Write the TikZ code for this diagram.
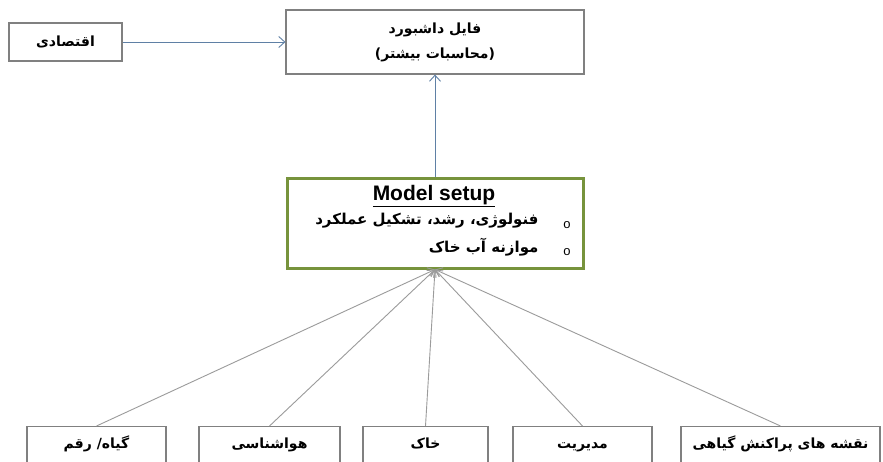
\documentclass[tikz,border=0pt]{standalone}
\usepackage{fontspec}
\setmainfont{Liberation Sans}
\newfontfamily\farsi[Script=Arabic]{DejaVu Sans}
\TeXXeTstate=1
\usepackage{xcolor}
\usetikzlibrary{positioning,arrows,arrows.meta}

\definecolor{boxgray}{RGB}{128,128,128}
\definecolor{linkblue}{RGB}{95,128,165}
\definecolor{linkgray}{RGB}{155,155,155}
\definecolor{setupgreen}{RGB}{119,147,60}

\newcommand{\fa}[1]{{\farsi\bfseries\beginR #1\endR}}

\begin{document}
\begin{tikzpicture}[
    x=1pt, y=-1pt,
    box/.style={draw=boxgray, line width=1.2pt, inner sep=0pt, font=\fontsize{14}{17}\selectfont},
    setup/.style={draw=setupgreen, line width=3pt, minimum width=296pt, minimum height=90pt},
    label/.style={anchor=base, font=\fontsize{14}{17}\selectfont},
    item/.style={anchor=east, font=\fontsize{15}{18}\selectfont},
    bullet/.style={font=\fontsize{13}{15}\selectfont},
    link/.style={draw=linkblue, line width=0.9pt, -{Straight Barb[length=6pt,width=11pt]}},
    feed/.style={draw=linkgray, line width=0.9pt, -{Straight Barb[length=6pt,width=10pt]}}
]
\clip (0,0) rectangle (883,461);
\fill[white] (0,0) rectangle (883,461);

% top row
\node[box, minimum width=113pt, minimum height=38pt] (econ) at (65.5,42) {\fa{اقتصادی}};
\node[box, minimum width=298pt, minimum height=64pt, align=center] (dash) at (435,42)
    {\fa{فایل داشبورد}\\[8pt] \fa{(محاسبات بیشتر)}};

% model setup
\node[setup] (msetup) at (435,223) {};
\node[font=\bfseries\fontsize{21}{24}\selectfont] (title) at (434,196) {\underline{Model setup}};
\node[item] (item1) at (542,221) {\fa{فنولوژی، رشد، تشکیل عملکرد}};
\node[item] (item2) at (542,247) {\fa{موازنه آب خاک}};
\node[bullet] (dot1) at (567,225) {o};
\node[bullet] (dot2) at (567,252) {o};

% inputs
\node[box, minimum width=139pt, minimum height=50pt, anchor=north] (plant) at (96.5,426) {};
\node[box, minimum width=141pt, minimum height=50pt, anchor=north] (weather) at (269.5,426) {};
\node[box, minimum width=125pt, minimum height=50pt, anchor=north] (soil) at (425.5,426) {};
\node[box, minimum width=139pt, minimum height=50pt, anchor=north] (manage) at (582.5,426) {};
\node[box, minimum width=199pt, minimum height=50pt, anchor=north] (maps) at (780.5,426) {};
\node[label] (plantlbl) at (plant.center |- 0,448) {\fa{گیاه/ رقم}};
\node[label] (weatherlbl) at (weather.center |- 0,448) {\fa{هواشناسی}};
\node[label] (soillbl) at (soil.center |- 0,448) {\fa{خاک}};
\node[label] (managelbl) at (manage.center |- 0,448) {\fa{مدیریت}};
\node[label] (mapslbl) at (maps.center |- 0,448) {\fa{نقشه های پراکنش گیاهی}};

% links
\draw[link] (econ) -- (dash);
\draw[link] (msetup) -- (dash);
\foreach \src in {plant,weather,soil,manage,maps}
    \draw[feed] (\src.north) -- (msetup.south);
\end{tikzpicture}
\end{document}
